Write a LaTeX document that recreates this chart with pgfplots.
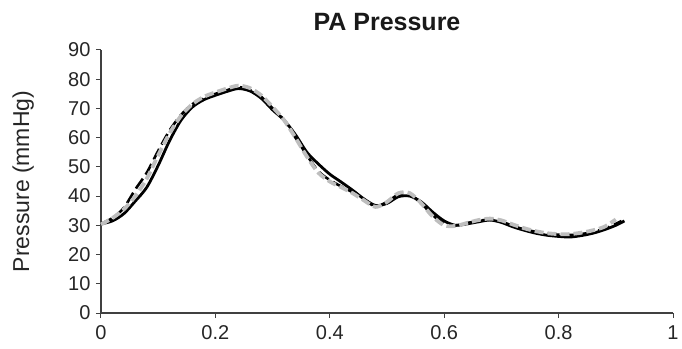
\documentclass[border=0pt]{standalone}
\usepackage{fontspec}
\setmainfont{Liberation Sans}
\usepackage{pgfplots}
\pgfplotsset{compat=1.18}
\begin{document}
\begin{tikzpicture}[x=1pt,y=1pt]
\begin{axis}[
  at={(0,0)}, anchor=south west,
  scale only axis, width=572pt, height=263pt,
  xmin=0, xmax=1, ymin=0, ymax=90,
  axis x line=bottom, axis y line=left,
  axis line style={-, line width=1.1pt, color=black!75},
  xtick={0,0.2,0.4,0.6,0.8,1}, ytick={0,10,...,90},
  xticklabels={0,0.2,0.4,0.6,0.8,1},
  tick align=outside, major tick length=5pt,
  tick style={line width=1pt, color=black!75},
  /pgf/number format/assume math mode=true,
  ticklabel style={font=\fontsize{20}{23}\selectfont, text=black!85},
  xticklabel style={yshift=-4pt},
  yticklabel style={xshift=-2pt},
  title={\bfseries PA Pressure},
  title style={font=\fontsize{25}{29}\selectfont, at={(0.5,1)}, yshift=10pt, text=black!90},
  ylabel={Pressure (mmHg)},
  ylabel style={font=\fontsize{23}{26}\selectfont, text=black!85, at={(axis description cs:-0.136,0.5)}, anchor=center},
  clip=false,
]
\addplot[black, line width=2.8pt, smooth, tension=0.5] coordinates {
(0,30.5)(0.02,31.5)(0.04,34)(0.06,38.3)(0.08,43)(0.10,50.5)(0.12,59)(0.14,66)(0.16,70.5)(0.18,73)(0.20,74.5)(0.22,75.8)(0.24,76.8)(0.26,76)(0.28,73.5)(0.30,69.5)(0.32,66)(0.34,61)(0.36,55)(0.38,51)(0.40,47.5)(0.42,44.8)(0.44,42)(0.46,39)(0.48,36.8)(0.50,37.5)(0.52,39.8)(0.54,40)(0.56,38)(0.58,34.5)(0.60,31.5)(0.62,30)(0.64,30.5)(0.66,31.2)(0.68,31.8)(0.70,31)(0.72,29.5)(0.74,28.3)(0.76,27.3)(0.78,26.6)(0.80,26.2)(0.82,26)(0.84,26.5)(0.86,27.3)(0.88,28.5)(0.90,30)(0.915,31.5)
};
\addplot[black, line width=2.6pt, smooth, tension=0.5, dash pattern=on 12pt off 5pt] coordinates {
(0,30.5)(0.02,32.5)(0.04,36)(0.06,42.3)(0.08,48)(0.10,55.5)(0.12,62.5)(0.14,67.8)(0.16,71.5)(0.18,73.5)(0.20,75)(0.22,76.2)(0.24,77.3)(0.26,76.3)(0.28,74)(0.30,70)(0.32,66)(0.34,60)(0.36,54)(0.38,48.5)(0.40,45.5)(0.42,43.3)(0.44,41.3)(0.46,38.8)(0.48,36.5)(0.50,38)(0.52,40.5)(0.54,40.5)(0.56,37.5)(0.58,33.5)(0.60,30.5)(0.62,30)(0.64,30.8)(0.66,31.5)(0.68,32)(0.70,31.3)(0.72,29.8)(0.74,28.6)(0.76,27.8)(0.78,27.2)(0.80,26.8)(0.82,26.7)(0.84,27)(0.86,27.8)(0.88,28.8)(0.90,30.5)(0.91,31.5)
};
\addplot[color={rgb,255:red,190;green,190;blue,190}, line width=3.8pt, smooth, tension=0.5, dash pattern=on 9pt off 4pt] coordinates {
(0,30.3)(0.02,32.5)(0.04,35.5)(0.06,40)(0.08,46)(0.10,54)(0.12,61.5)(0.14,67.5)(0.16,71.5)(0.18,74)(0.20,75.5)(0.22,76.8)(0.24,77.8)(0.26,77)(0.28,74.5)(0.30,70.5)(0.32,66)(0.34,60)(0.36,53.5)(0.38,48)(0.40,45)(0.42,43)(0.44,41)(0.46,38.5)(0.48,36.3)(0.50,38)(0.52,41)(0.54,41)(0.56,37.5)(0.58,33)(0.60,30)(0.62,29.8)(0.64,30.8)(0.66,31.8)(0.68,32.3)(0.70,31.7)(0.72,30.3)(0.74,29)(0.76,28)(0.78,27.3)(0.80,27)(0.82,27)(0.84,27.5)(0.86,28.3)(0.88,29.5)(0.90,32)
};
\end{axis}
\path[use as bounding box] (-101pt,-35pt) rectangle (581pt,313pt);
\end{tikzpicture}
\end{document}
